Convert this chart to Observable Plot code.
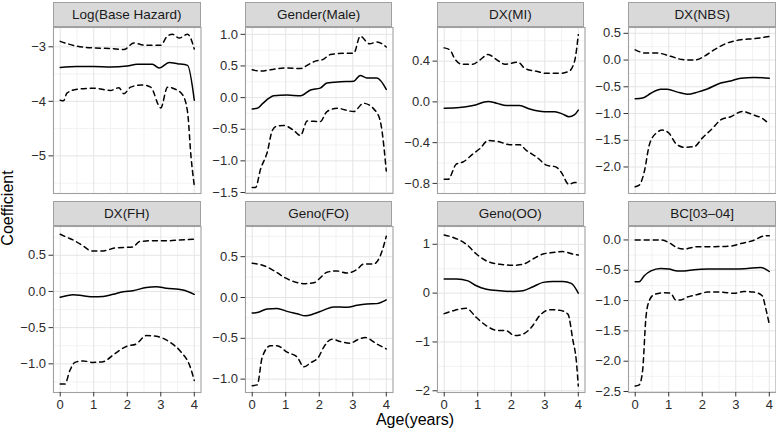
<!DOCTYPE html>
<html>
<head>
<meta charset="utf-8">
<script src="https://cdn.jsdelivr.net/npm/d3@7"></script>
<script src="https://cdn.jsdelivr.net/npm/@observablehq/plot@0.6"></script>
<style>
  html, body { margin: 0; padding: 0; background: #fff; }
  #chart { position: relative; width: 776px; height: 432px; overflow: hidden; font-family: "Liberation Sans", Arial, sans-serif; }
  .strip { position: absolute; box-sizing: border-box; background: #d9d9d9; border: 1px solid #a0a0a0;
           display: flex; align-items: center; justify-content: center; font-size: 13.5px; color: #1a1a1a; }
  .ptitle { position: absolute; font-size: 16px; line-height: 12px; color: #000; white-space: nowrap; }
  .panel { position: absolute; }
</style>
</head>
<body>
<div id="chart"></div>
<script>
// ---------- data ----------
const panelTitles = ["Log(Base Hazard)", "Gender(Male)", "DX(MI)", "DX(NBS)",
                     "DX(FH)", "Geno(FO)", "Geno(OO)", "BC[03\u201304]"];
const xTicks = [0, 1, 2, 3, 4];

const baseEst = [[0,-3.38],[0.5,-3.36],[1,-3.36],[1.5,-3.37],[2,-3.35],[2.3,-3.32],[2.75,-3.32],[2.95,-3.39],[3.25,-3.29],[3.5,-3.31],[3.8,-3.34],[4,-3.98]];
const baseLo  = [[0,-3.98],[0.1,-3.99],[0.2,-3.85],[0.5,-3.78],[1,-3.76],[1.5,-3.8],[1.75,-3.75],[1.9,-3.86],[2.1,-3.74],[2.45,-3.7],[2.7,-3.74],[3,-4.12],[3.2,-3.74],[3.4,-3.77],[3.65,-3.88],[3.8,-4.2],[3.9,-5.0],[4,-5.55]];
const baseHi  = [[0,-2.9],[0.25,-2.95],[0.5,-2.99],[1,-3.02],[1.5,-3.03],[1.9,-3.05],[2.2,-2.93],[2.5,-2.97],[3,-2.97],[3.2,-2.8],[3.35,-2.77],[3.55,-2.84],[3.8,-2.77],[4,-3.04]];

const genEst = [[0,-0.18],[0.15,-0.17],[0.3,-0.1],[0.5,-0.01],[0.64,0.03],[1.04,0.04],[1.44,0.03],[1.74,0.12],[2.03,0.15],[2.23,0.23],[2.63,0.25],[3.03,0.26],[3.22,0.35],[3.42,0.31],[3.72,0.31],[4,0.13]];
const genLo  = [[0,-1.42],[0.1,-1.42],[0.25,-1.13],[0.45,-0.86],[0.6,-0.52],[0.74,-0.45],[0.94,-0.44],[1.24,-0.52],[1.44,-0.6],[1.64,-0.37],[2.03,-0.38],[2.23,-0.22],[2.53,-0.17],[3.03,-0.22],[3.32,-0.09],[3.72,-0.24],[3.85,-0.45],[4,-1.16]];
const genHi  = [[0,0.44],[0.25,0.42],[0.55,0.44],[1,0.47],[1.44,0.46],[1.7,0.53],[1.9,0.58],[2.1,0.6],[2.33,0.68],[2.73,0.7],[3.03,0.7],[3.22,0.97],[3.5,0.85],[3.72,0.88],[4,0.8]];

const miEst = [[0,-0.063],[0.46,-0.056],[0.86,-0.036],[1.31,0.003],[1.56,-0.013],[1.86,-0.036],[2.25,-0.036],[2.55,-0.07],[3,-0.096],[3.3,-0.096],[3.54,-0.12],[3.72,-0.145],[3.89,-0.125],[4,-0.08]];
const miLo  = [[0,-0.76],[0.12,-0.76],[0.36,-0.61],[0.56,-0.59],[0.86,-0.51],[1.06,-0.46],[1.31,-0.38],[1.56,-0.385],[1.96,-0.42],[2.25,-0.42],[2.45,-0.475],[2.75,-0.54],[3.05,-0.62],[3.34,-0.64],[3.49,-0.69],[3.72,-0.81],[3.89,-0.79],[4,-0.8]];
const miHi  = [[0,0.53],[0.17,0.51],[0.32,0.42],[0.52,0.37],[0.86,0.37],[1.06,0.41],[1.31,0.465],[1.56,0.415],[1.81,0.37],[2.2,0.39],[2.4,0.33],[2.75,0.3],[3.05,0.28],[3.44,0.28],[3.72,0.3],[3.89,0.4],[4,0.66]];

const nbsEst = [[0,-0.725],[0.22,-0.71],[0.47,-0.62],[0.76,-0.545],[0.96,-0.545],[1.26,-0.6],[1.56,-0.64],[1.86,-0.6],[2.15,-0.54],[2.55,-0.43],[2.85,-0.39],[3.15,-0.34],[3.54,-0.325],[4,-0.34]];
const nbsLo  = [[0,-2.37],[0.12,-2.34],[0.27,-2.09],[0.42,-1.59],[0.62,-1.37],[0.82,-1.31],[1.01,-1.37],[1.21,-1.56],[1.46,-1.63],[1.76,-1.62],[2,-1.46],[2.3,-1.28],[2.55,-1.12],[2.85,-1.06],[3.2,-0.96],[3.54,-1.03],[3.79,-1.09],[4,-1.2]];
const nbsHi  = [[0,0.19],[0.32,0.13],[0.66,0.13],[1.06,0.07],[1.41,0.01],[1.76,0],[2.06,0.07],[2.35,0.19],[2.75,0.32],[3.15,0.38],[3.54,0.4],[4,0.44]];

const fhEst = [[0,-0.08],[0.39,-0.045],[0.68,-0.06],[0.98,-0.075],[1.28,-0.07],[1.58,-0.04],[1.88,-0.005],[2.17,0.01],[2.57,0.055],[2.87,0.065],[3.16,0.045],[3.66,0.02],[4,-0.04]];
const fhLo  = [[0,-1.28],[0.14,-1.28],[0.29,-1.09],[0.44,-0.98],[0.68,-0.96],[0.98,-0.98],[1.28,-0.97],[1.63,-0.86],[1.97,-0.76],[2.27,-0.725],[2.57,-0.61],[2.87,-0.62],[3.27,-0.7],[3.61,-0.84],[3.86,-1.02],[4,-1.23]];
const fhHi  = [[0,0.79],[0.19,0.75],[0.39,0.71],[0.68,0.63],[0.93,0.56],[1.28,0.56],[1.63,0.6],[2.17,0.615],[2.37,0.69],[2.77,0.7],[3.16,0.7],[3.56,0.71],[4,0.72]];

const foEst = [[0,-0.19],[0.15,-0.185],[0.45,-0.14],[0.74,-0.135],[1.04,-0.17],[1.34,-0.2],[1.59,-0.225],[1.84,-0.2],[2.13,-0.155],[2.43,-0.115],[2.83,-0.12],[3.13,-0.095],[3.42,-0.08],[3.72,-0.075],[4,-0.03]];
const foLo  = [[0,-1.08],[0.15,-1.07],[0.3,-0.73],[0.55,-0.59],[0.74,-0.59],[1.04,-0.67],[1.34,-0.73],[1.54,-0.85],[1.74,-0.8],[1.98,-0.73],[2.13,-0.61],[2.38,-0.51],[2.63,-0.54],[2.93,-0.56],[3.13,-0.52],[3.37,-0.49],[3.72,-0.57],[4,-0.63]];
const foHi  = [[0,0.42],[0.35,0.39],[0.64,0.33],[0.99,0.24],[1.24,0.195],[1.59,0.17],[1.84,0.18],[2.03,0.24],[2.23,0.31],[2.53,0.325],[2.83,0.3],[3.13,0.345],[3.32,0.41],[3.62,0.41],[3.82,0.51],[4,0.75]];

const ooEst = [[0,0.29],[0.37,0.29],[0.71,0.25],[0.96,0.15],[1.26,0.08],[1.66,0.048],[2.05,0.034],[2.35,0.048],[2.65,0.13],[2.95,0.22],[3.24,0.24],[3.54,0.24],[3.79,0.2],[4,0]];
const ooLo  = [[0,-0.42],[0.27,-0.36],[0.66,-0.31],[0.96,-0.5],[1.26,-0.67],[1.56,-0.76],[1.85,-0.77],[2.1,-0.87],[2.35,-0.84],[2.6,-0.7],[2.85,-0.46],[3.15,-0.34],[3.44,-0.35],[3.69,-0.43],[3.84,-0.97],[3.94,-1.38],[4,-1.9]];
const ooHi  = [[0,1.19],[0.27,1.14],[0.66,1.0],[0.96,0.8],[1.26,0.66],[1.66,0.59],[2.05,0.57],[2.35,0.59],[2.65,0.7],[2.95,0.8],[3.24,0.83],[3.54,0.85],[3.84,0.8],[4,0.78]];

const bcEst = [[0,-0.69],[0.12,-0.69],[0.27,-0.59],[0.47,-0.51],[0.76,-0.47],[1.01,-0.48],[1.26,-0.51],[1.46,-0.51],[1.76,-0.49],[2.15,-0.48],[2.55,-0.48],[2.95,-0.48],[3.35,-0.47],[3.74,-0.456],[3.89,-0.48],[4,-0.52]];
const bcLo  = [[0,-2.41],[0.12,-2.39],[0.22,-2.16],[0.32,-1.28],[0.42,-1],[0.57,-0.9],[0.87,-0.87],[1.06,-0.88],[1.21,-0.99],[1.36,-0.99],[1.56,-0.94],[1.86,-0.9],[2.15,-0.86],[2.55,-0.86],[2.95,-0.88],[3.24,-0.85],[3.54,-0.86],[3.79,-0.92],[3.89,-1.12],[4,-1.39]];
const bcHi  = [[0,0],[0.37,0],[0.76,0],[1.01,-0.045],[1.26,-0.13],[1.46,-0.15],[1.86,-0.11],[2.35,-0.11],[2.85,-0.1],[3.15,-0.06],[3.54,-0.005],[3.84,0.065],[4,0.07]];

// y tick values for each panel
const yTicks = [
  [-5, -4, -3],
  [-1.5, -1, -0.5, 0, 0.5, 1],
  [-0.8, -0.4, 0, 0.4],
  [-2, -1.5, -1, -0.5, 0, 0.5],
  [-1, -0.5, 0, 0.5],
  [-1, -0.5, 0, 0.5],
  [-2, -1, 0, 1],
  [-2.5, -2, -1.5, -1, -0.5, 0]
];
const yDecimals = [0, 1, 1, 1, 1, 1, 0, 1];

// ---------- scales / layout options ----------
const yDomains = [
  [-5.69, -2.646], [-1.516, 1.108], [-0.899, 0.730], [-2.496, 0.609],
  [-1.396, 0.897], [-1.164, 0.870], [-2.035, 1.364], [-2.516, 0.222]
];
const xDomain = [-0.2, 4.2];
const colLeft = [53, 244.8, 436.6, 628.4];
const innerW = 147.5;
const stripTop = [1.5, 200.5];
const stripH = 25;
const plotTop = [26.5, 225.5];
const innerH = 166;

const seriesByPanel = [
  [baseLo, baseEst, baseHi], [genLo, genEst, genHi], [miLo, miEst, miHi], [nbsLo, nbsEst, nbsHi],
  [fhLo, fhEst, fhHi], [foLo, foEst, foHi], [ooLo, ooEst, ooHi], [bcLo, bcEst, bcHi]
];

const chart = document.getElementById("chart");
const mL = 50, mR = 1, mT = 1;

function minorTicks(ticks, domain) {
  const step = ticks[1] - ticks[0];
  const out = [];
  for (let v = ticks[0] - step / 2; v <= ticks[ticks.length - 1] + step / 2 + 1e-9; v += step) {
    if (v >= domain[0] && v <= domain[1]) out.push(+v.toFixed(6));
  }
  return out;
}

panelTitles.forEach((title, i) => {
  const row = Math.floor(i / 4), col = i % 4;
  const mB = row === 1 ? 28 : 1;
  const [lo, est, hi] = seriesByPanel[i];
  const fmt = d3.format("." + yDecimals[i] + "f");
  const xMinor = minorTicks(xTicks, xDomain);
  const yMinor = minorTicks(yTicks[i], yDomains[i]);

  const marks = [
    Plot.gridX(xMinor, {stroke: "#f0f0f0", strokeOpacity: 1, strokeWidth: 0.9}),
    Plot.gridY(yMinor, {stroke: "#f0f0f0", strokeOpacity: 1, strokeWidth: 0.9}),
    Plot.gridX(xTicks, {stroke: "#e4e4e4", strokeOpacity: 1, strokeWidth: 1}),
    Plot.gridY(yTicks[i], {stroke: "#e4e4e4", strokeOpacity: 1, strokeWidth: 1}),
    Plot.line(lo, {x: d => d[0], y: d => d[1], stroke: "#000", strokeWidth: 1.5, strokeDasharray: "5,4", curve: "monotone-x"}),
    Plot.line(hi, {x: d => d[0], y: d => d[1], stroke: "#000", strokeWidth: 1.5, strokeDasharray: "5,4", curve: "monotone-x"}),
    Plot.line(est, {x: d => d[0], y: d => d[1], stroke: "#000", strokeWidth: 1.5, curve: "monotone-x"}),
    Plot.frame({stroke: "#a0a0a0", strokeWidth: 1.1}),
    Plot.axisY(yTicks[i], {tickSize: 4.5, tickPadding: 3, tickFormat: fmt, stroke: "#333", fill: "#2b2b2b", fontSize: 13})
  ];
  if (row === 1) {
    marks.push(Plot.axisX(xTicks, {tickSize: 4.5, tickPadding: 3, tickFormat: d3.format("d"), stroke: "#333", fill: "#2b2b2b", fontSize: 13}));
  }

  const svg = Plot.plot({
    width: mL + innerW + mR,
    height: mT + innerH + mB,
    marginLeft: mL, marginRight: mR, marginTop: mT, marginBottom: mB,
    x: {domain: xDomain, axis: null, label: null},
    y: {domain: yDomains[i], axis: null, label: null},
    style: {background: "none", overflow: "visible", fontFamily: "'Liberation Sans', Arial, sans-serif", fontSize: "13px", maxWidth: "none", color: "#2b2b2b"},
    marks
  });
  const holder = document.createElement("div");
  holder.className = "panel";
  holder.style.left = (colLeft[col] - mL) + "px";
  holder.style.top = (plotTop[row] - mT) + "px";
  holder.appendChild(svg);
  chart.appendChild(holder);

  const strip = document.createElement("div");
  strip.className = "strip";
  strip.style.left = colLeft[col] + "px";
  strip.style.top = stripTop[row] + "px";
  strip.style.width = innerW + "px";
  strip.style.height = stripH + "px";
  strip.textContent = title;
  chart.appendChild(strip);
});

// axis titles
const xt = document.createElement("div");
xt.className = "ptitle";
xt.textContent = "Age(years)";
xt.style.left = "415px";
xt.style.top = "414px";
xt.style.transform = "translateX(-50%)";
chart.appendChild(xt);

const yt = document.createElement("div");
yt.className = "ptitle";
yt.textContent = "Coefficient";
yt.style.left = "7.5px";
yt.style.top = "208px";
yt.style.transform = "translate(-50%, -50%) rotate(-90deg)";
chart.appendChild(yt);
</script>
</body>
</html>
